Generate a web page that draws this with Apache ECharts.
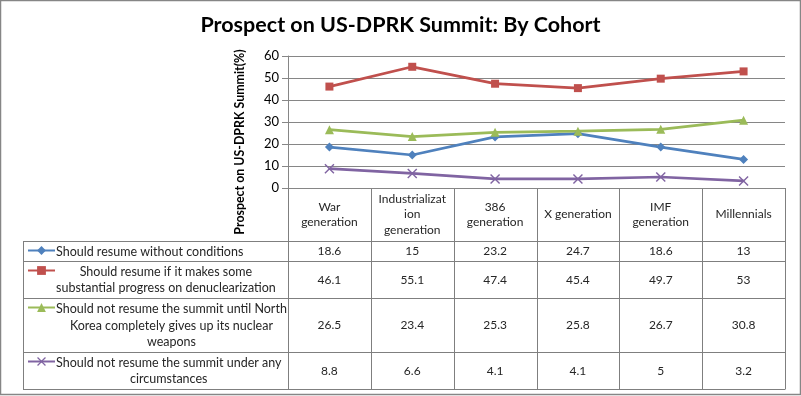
<!DOCTYPE html>
<html>
<head>
<meta charset="utf-8">
<script src="https://cdn.jsdelivr.net/npm/echarts@6/dist/echarts.min.js"></script>
<style>
  html, body { margin: 0; padding: 0; background: #fff; }
  #chart { width: 801px; height: 396px; }
</style>
</head>
<body>
<div id="chart"></div>
<script>
const cohorts = ['War\ngeneration', 'Industrializat\nion\ngeneration', '386\ngeneration', 'X generation', 'IMF\ngeneration', 'Millennials']
const seriesNames = [
  'Should resume without conditions',
  'Should resume if it makes some\nsubstantial progress on denuclearization',
  'Should not resume the summit until North\nKorea completely gives up its nuclear\nweapons',
  'Should not resume the summit under any\ncircumstances'
]
const withoutConditions = [18.6, 15, 23.2, 24.7, 18.6, 13]
const ifProgress = [46.1, 55.1, 47.4, 45.4, 49.7, 53]
const untilGivesUp = [26.5, 23.4, 25.3, 25.8, 26.7, 30.8]
const underNoCircumstances = [8.8, 6.6, 4.1, 4.1, 5, 3.2]
const yMin = 0, yMax = 60, yStep = 10

const allSeries = [withoutConditions, ifProgress, untilGivesUp, underNoCircumstances]
const colors = ['#4F81BD', '#C0504D', '#9BBB59', '#8064A2']
const symbols = ['diamond', 'rect', 'triangle',
  'path://M0,1L1,0L5,4L9,0L10,1L6,5L10,9L9,10L5,6L1,10L0,9L4,5Z']
const symbolSizes = [9, 8, 9, 10]

// table layout (pixels)
const FONT = 'Lato, "Noto Sans", sans-serif'
const tableLeft = 23
const gridLeft = 288, gridRight = 785, gridTop = 56, axisY = 188
const rowEdges = [241, 261, 298, 352, 389]
const keyLeft = 27, textLeft = 56, lineH = 16.5, rowFont = 12.5

const chart = echarts.init(document.getElementById('chart'))

chart.setOption({
  backgroundColor: '#fff',
  animation: false,
  title: {
    text: 'Prospect on US-DPRK Summit: By Cohort',
    left: 'center',
    top: 9,
    textStyle: { fontFamily: FONT, fontSize: 21.5, fontWeight: 'bold', color: '#000' }
  },
  grid: { left: gridLeft, right: 801 - gridRight, top: gridTop, bottom: 396 - axisY },
  legend: seriesNames.map((name, i) => ({
    data: [name],
    left: keyLeft,
    top: rowEdges[i] + 10 - 6,
    itemWidth: 27,
    itemHeight: 11,
    padding: 0,
    selectedMode: false,
    formatter: () => '',
    textStyle: { fontSize: 1 }
  })),
  xAxis: {
    type: 'category',
    data: cohorts,
    boundaryGap: true,
    axisLine: { lineStyle: { color: '#868686', width: 1 } },
    axisTick: { show: false },
    axisLabel: {
      interval: 0,
      fontFamily: FONT,
      fontSize: 12,
      color: '#262626',
      lineHeight: 15.5,
      verticalAlign: 'middle',
      margin: 26.5
    }
  },
  yAxis: {
    type: 'value',
    min: yMin,
    max: yMax,
    interval: yStep,
    axisLine: { show: true, lineStyle: { color: '#868686' } },
    axisTick: { show: true, length: 6, lineStyle: { color: '#868686' } },
    axisLabel: { fontFamily: FONT, fontSize: 13, color: '#000', margin: 9 },
    splitLine: { lineStyle: { color: '#868686', width: 1 } }
  },
  series: allSeries.map((data, i) => ({
    name: seriesNames[i],
    type: 'line',
    data: data,
    symbol: symbols[i],
    symbolSize: symbolSizes[i],
    lineStyle: { color: colors[i], width: 2.75 },
    itemStyle: { color: colors[i] }
  }))
})

// table drawn with graphic, columns placed through the x axis scale
const colX = cohorts.map((c, i) => chart.convertToPixel({ xAxisIndex: 0 }, i))
const step = colX[1] - colX[0]
const edgesX = [colX[0] - step / 2].concat(colX.map(x => x + step / 2))

const ctx = document.createElement('canvas').getContext('2d')
ctx.font = rowFont + 'px ' + FONT
const measure = s => Math.max(...s.split('\n').map(l => ctx.measureText(l).width))

const lineStyle = { stroke: '#7F7F7F', lineWidth: 1 }
const graphics = [
  {
    type: 'rect',
    shape: { x: 0.5, y: 0.5, width: 800, height: 394 },
    style: { fill: 'none', stroke: '#868686', lineWidth: 1.5 }
  },
  {
    type: 'text',
    x: 240, y: 142, rotation: Math.PI / 2,
    style: {
      text: 'Prospect on US-DPRK Summit(%)',
      fontFamily: FONT, fontSize: 12.4, fontWeight: 'bold', fill: '#000',
      align: 'center', verticalAlign: 'middle'
    }
  }
]
rowEdges.forEach(y => graphics.push({
  type: 'line', shape: { x1: tableLeft, y1: y + 0.5, x2: gridRight, y2: y + 0.5 }, style: lineStyle
}))
graphics.push({
  type: 'line', shape: { x1: tableLeft + 0.5, y1: rowEdges[0], x2: tableLeft + 0.5, y2: rowEdges[4] + 0.5 }, style: lineStyle
})
edgesX.forEach(x => graphics.push({
  type: 'line', shape: { x1: Math.round(x) + 0.5, y1: axisY, x2: Math.round(x) + 0.5, y2: rowEdges[4] + 0.5 }, style: lineStyle
}))
seriesNames.forEach((name, r) => {
  const top = rowEdges[r], bottom = rowEdges[r + 1]
  const mid = (top + bottom) / 2
  graphics.push({
    type: 'text',
    x: textLeft + measure(name) / 2, y: mid + 0.5,
    style: {
      text: name, fontFamily: FONT, fontSize: rowFont, fill: '#262626',
      align: 'center', verticalAlign: 'middle', lineHeight: lineH
    }
  })
  allSeries[r].forEach((v, c) => graphics.push({
    type: 'text',
    x: colX[c], y: mid + 0.5,
    style: {
      text: String(v), fontFamily: FONT, fontSize: 12, fill: '#262626',
      align: 'center', verticalAlign: 'middle'
    }
  }))
})

chart.setOption({ graphic: graphics })
</script>
</body>
</html>
